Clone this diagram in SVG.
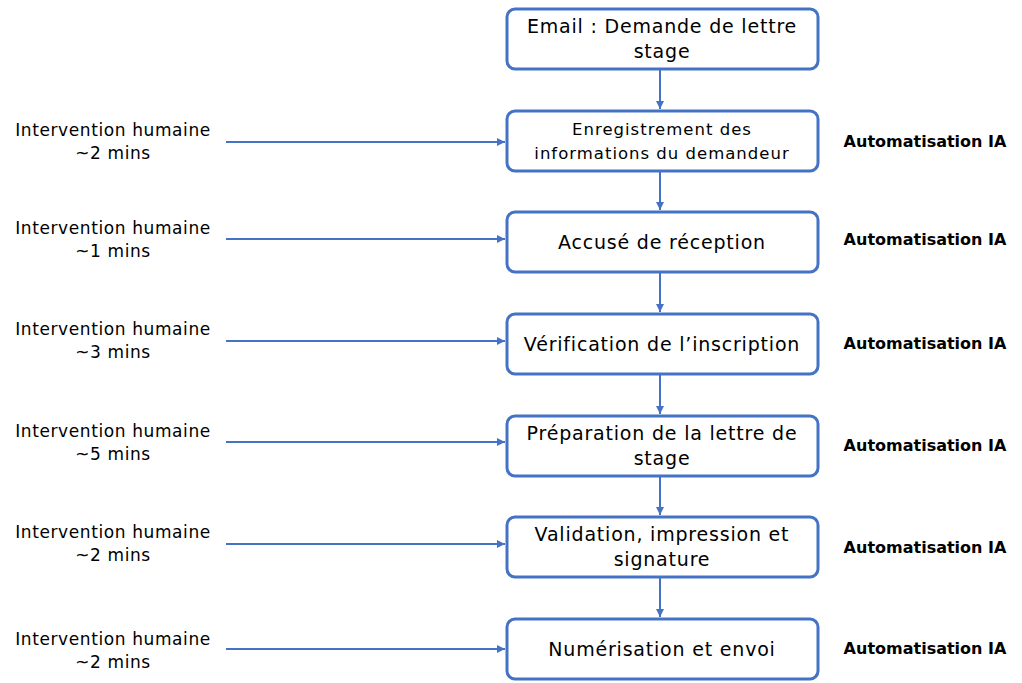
<svg xmlns="http://www.w3.org/2000/svg" width="1022" height="683" viewBox="0 0 1022 683">
<defs>
<marker id="ah" viewBox="0 0 10 10" refX="10" refY="5" markerWidth="4" markerHeight="4" orient="auto" markerUnits="strokeWidth">
<path d="M0,0 L10,5 L0,10 z" fill="#4472C4"/>
</marker>
<style>
.box{fill:#fff;stroke:#4472C4;stroke-width:3}
.con{stroke:#4472C4;stroke-width:2;fill:none;marker-end:url(#ah)}
.t{font-family:"DejaVu Sans",Arial,sans-serif;font-size:19px;letter-spacing:0.8px;fill:#000;text-anchor:middle}
.ts{font-family:"DejaVu Sans",Arial,sans-serif;font-size:16.5px;letter-spacing:1px;fill:#000;text-anchor:middle}
.l{font-family:"DejaVu Sans",Arial,sans-serif;font-size:17px;letter-spacing:0.6px;fill:#000;text-anchor:middle}
.r{font-family:"DejaVu Sans",Arial,sans-serif;font-size:16px;font-weight:bold;fill:#000;text-anchor:middle}
</style>
</defs>
<rect width="1022" height="683" fill="#fff"/>
<g id="connectors">
<line class="con" x1="660" y1="70" x2="660" y2="109"/>
<line class="con" x1="660" y1="172" x2="660" y2="210"/>
<line class="con" x1="660" y1="273" x2="660" y2="312"/>
<line class="con" x1="660" y1="375" x2="660" y2="414"/>
<line class="con" x1="660" y1="477" x2="660" y2="515"/>
<line class="con" x1="660" y1="578" x2="660" y2="617"/>
<line class="con" x1="226" y1="142" x2="505" y2="142"/>
<line class="con" x1="226" y1="239" x2="505" y2="239"/>
<line class="con" x1="226" y1="341" x2="505" y2="341"/>
<line class="con" x1="226" y1="442" x2="505" y2="442"/>
<line class="con" x1="226" y1="544" x2="505" y2="544"/>
<line class="con" x1="226" y1="649" x2="505" y2="649"/>
</g>
<g id="n1"><rect class="box" x="507" y="9" width="311" height="60" rx="8"/>
<text class="t" x="662" y="33">Email : Demande de lettre</text><text class="t" x="662" y="58">stage</text></g>
<g id="n2"><rect class="box" x="507" y="111" width="311" height="60" rx="8"/>
<text class="ts" x="662" y="135">Enregistrement des</text><text class="ts" x="662" y="159">informations du demandeur</text></g>
<g id="n3"><rect class="box" x="507" y="212" width="311" height="60" rx="8"/>
<text class="t" x="662" y="249">Accusé de réception</text></g>
<g id="n4"><rect class="box" x="507" y="314" width="311" height="60" rx="8"/>
<text class="t" x="662" y="351">Vérification  de l’inscription</text></g>
<g id="n5"><rect class="box" x="507" y="416" width="311" height="60" rx="8"/>
<text class="t" x="662" y="440">Préparation  de la lettre de</text><text class="t" x="662" y="465">stage</text></g>
<g id="n6"><rect class="box" x="507" y="517" width="311" height="60" rx="8"/>
<text class="t" x="662" y="541">Validation, impression  et</text><text class="t" x="662" y="566">signature</text></g>
<g id="n7"><rect class="box" x="507" y="619" width="311" height="60" rx="8"/>
<text class="t" x="662" y="656">Numérisation  et envoi</text></g>
<g id="left-labels">
<text class="l" x="113" y="136">Intervention humaine</text><text class="l" x="113" y="159">~2 mins</text>
<text class="l" x="113" y="234">Intervention humaine</text><text class="l" x="113" y="257">~1 mins</text>
<text class="l" x="113" y="335">Intervention humaine</text><text class="l" x="113" y="358">~3 mins</text>
<text class="l" x="113" y="437">Intervention humaine</text><text class="l" x="113" y="460">~5 mins</text>
<text class="l" x="113" y="538">Intervention humaine</text><text class="l" x="113" y="561">~2 mins</text>
<text class="l" x="113" y="645">Intervention humaine</text><text class="l" x="113" y="668">~2 mins</text>
</g>
<g id="right-labels">
<text class="r" x="925" y="147">Automatisation IA</text>
<text class="r" x="925" y="245">Automatisation IA</text>
<text class="r" x="925" y="349">Automatisation IA</text>
<text class="r" x="925" y="451">Automatisation IA</text>
<text class="r" x="925" y="553">Automatisation IA</text>
<text class="r" x="925" y="654">Automatisation IA</text>
</g>
</svg>
